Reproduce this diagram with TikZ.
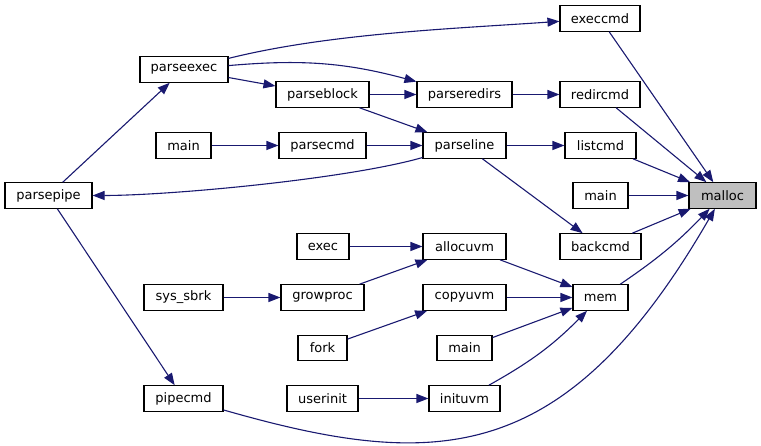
\documentclass[tikz,border=0pt]{standalone}
\usepackage{fontspec}
\setmainfont{DejaVu Sans}
\usetikzlibrary{arrows.meta}

\begin{document}
\begin{tikzpicture}[
  x=1pt, y=1pt,
  font=\fontsize{13}{15}\selectfont,
  >={Triangle[length=12pt,width=9pt]},
  fnbox/.style={draw=black, fill=white, line width=1.1pt, minimum height=25.5pt, inner sep=0pt},
  call/.style={->, draw=cEdge, line width=1.1pt},
]
\definecolor{cEdge}{HTML}{191970}   % midnightblue (call edges)
\definecolor{cFocus}{HTML}{BFBFBF}  % grey75 (focus node)

\useasboundingbox (0,0) rectangle (761,446);

% =====================================================================
% Function boxes: name / x / y / width / label
% =====================================================================
\foreach \id/\px/\py/\bw/\lbl in {
    execcmd/600/427.5/80/execcmd,
    parseexec/184/376.5/88/parseexec,
    parseblock/322.5/351.5/93/parseblock,
    parseredirs/464.5/351.5/95/parseredirs,
    redircmd/600/351.5/80/redircmd,
    mainA/183.5/300.5/55/main,
    parsecmd/322.5/300.5/87/parsecmd,
    parseline/464.5/300.5/83/parseline,
    listcmd/600.5/300.5/71/listcmd,
    parsepipe/48.5/250.5/87/parsepipe,
    mainB/600.5/250.5/55/main,
    exec/323/199.5/52/exec,
    allocuvm/464.5/199.5/83/allocuvm,
    backcmd/600.5/199.5/81/backcmd,
    sysbrk/183.5/148.5/79/sys\_sbrk,
    growproc/322.5/148.5/83/growproc,
    copyuvm/464.5/148.5/83/copyuvm,
    mem/600.5/148.5/55/mem,
    fork/322.5/98/49/fork,
    mainC/464.5/98/55/main,
    pipecmd/183.5/47.5/79/pipecmd,
    userinit/322.5/47.5/71/userinit,
    inituvm/464.5/47.5/71/inituvm}{
  \node[fnbox, minimum width=\bw] (\id) at (\px,\py) {\lbl};
}

% focus node
\node[fnbox, fill=cFocus, minimum width=67] (malloc) at (722.5,250.5) {malloc};

% =====================================================================
% Straight calls
% =====================================================================
\foreach \a/\b in {execcmd/malloc, redircmd/malloc, listcmd/malloc,
                   mainB/malloc, backcmd/malloc,
                   parseredirs/redircmd, parseline/listcmd, parseline/backcmd,
                   parseexec/parseblock, parseblock/parseredirs,
                   parseblock/parseline, parsecmd/parseline, mainA/parsecmd,
                   parsepipe/parseexec, parsepipe/pipecmd,
                   allocuvm/mem, copyuvm/mem, mainC/mem,
                   exec/allocuvm, growproc/allocuvm, sysbrk/growproc,
                   fork/copyuvm, userinit/inituvm}{
  \draw[call] (\a) -- (\b);
}

% =====================================================================
% Curved calls
% =====================================================================
\draw[call] (parseexec) to[out=14, in=184, looseness=0.8] (execcmd);
\draw[call] (parseexec) to[out=5, in=165] (parseredirs);
\draw[call] (parseline) to[out=196, in=0, looseness=0.6] (parsepipe);
\draw[call] (mem) to[bend right=6] (malloc);
\draw[call] (inituvm) to[bend right=8] (mem);
\draw[call] (pipecmd) to[out=-16, in=240, out distance=220pt, in distance=300pt] (malloc);

\end{tikzpicture}
\end{document}
